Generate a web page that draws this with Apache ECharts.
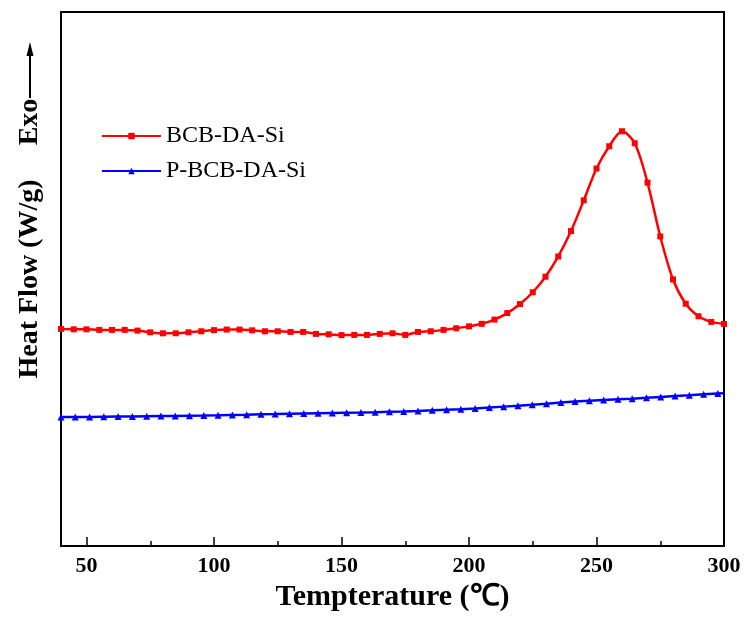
<!DOCTYPE html>
<html>
<head>
<meta charset="utf-8">
<title>DSC</title>
<script src="https://cdn.jsdelivr.net/npm/echarts@6/dist/echarts.min.js"></script>
<style>
  html, body { margin: 0; padding: 0; background: #fff; }
  #chart { width: 745px; height: 617px; }
</style>
</head>
<body>
<div id="chart"></div>
<script>
// temperatures of the markers (°C)
const redTemps = [40, 45, 50, 55, 60, 65, 70, 75, 80, 85, 90, 95, 100, 105, 110, 115, 120, 125, 130, 135,
  140, 145, 150, 155, 160, 165, 170, 175, 180, 185, 190, 195, 200, 205, 210, 215, 220, 225, 230, 235,
  240, 245, 250, 255, 260, 265, 270, 275, 280, 285, 290, 295, 300]
// heat flow, arbitrary offset units
const redFlow = [4.066, 4.058, 4.058, 4.047, 4.047, 4.047, 4.034, 4.002, 3.983, 3.983, 4.002, 4.021, 4.043, 4.053, 4.053, 4.039, 4.021, 4.021, 4.009, 4.009,
  3.972, 3.964, 3.949, 3.953, 3.953, 3.972, 3.983, 3.953, 4.009, 4.021, 4.047, 4.077, 4.113, 4.161, 4.240, 4.362, 4.531, 4.752, 5.043, 5.422,
  5.897, 6.473, 7.069, 7.486, 7.767, 7.542, 6.805, 5.797, 4.991, 4.537, 4.302, 4.197, 4.159]

const blueTemps = [40, 45.6, 51.2, 56.8, 62.4, 68, 73.6, 79.2, 84.8, 90.4, 96, 101.6, 107.2, 112.8, 118.4, 124,
  129.6, 135.2, 140.8, 146.4, 152, 157.6, 163.2, 168.8, 174.4, 180, 185.6, 191.2, 196.8, 202.4, 208, 213.6,
  219.2, 224.8, 230.4, 236, 241.6, 247.2, 252.8, 258.4, 264, 269.6, 275.2, 280.8, 286.4, 292, 297.6, 300]
const blueFlow = [2.415, 2.417, 2.418, 2.422, 2.425, 2.427, 2.430, 2.433, 2.436, 2.440, 2.443, 2.448, 2.455, 2.460, 2.466, 2.470,
  2.475, 2.480, 2.485, 2.490, 2.495, 2.500, 2.506, 2.514, 2.521, 2.529, 2.540, 2.552, 2.563, 2.577, 2.592, 2.610,
  2.625, 2.643, 2.662, 2.688, 2.706, 2.722, 2.736, 2.747, 2.758, 2.775, 2.792, 2.808, 2.823, 2.840, 2.855, 2.861]

const majorTicks = [50, 100, 150, 200, 250, 300]
const minorTicks = [75, 125, 175, 225, 275]

const seriesNames = ['BCB-DA-Si', 'P-BCB-DA-Si']

const serif = "'Liberation Serif', 'Times New Roman', serif"

const pairs = (xs, ys) => xs.map((x, i) => [x, ys[i]])

// last blue point is the line end, drawn without marker
const blueData = pairs(blueTemps, blueFlow).map((p, i) =>
  i === blueTemps.length - 1 ? { value: p, symbol: 'none' } : p)

const chart = echarts.init(document.getElementById('chart'))

chart.setOption({
  backgroundColor: '#fff',
  animation: false,
  grid: {
    left: 61,
    right: 21,
    top: 12,
    bottom: 71,
    show: true,
    borderColor: '#000',
    borderWidth: 2,
    backgroundColor: 'transparent'
  },
  legend: {
    orient: 'vertical',
    left: 101,
    top: 124,
    padding: 0,
    itemWidth: 59,
    itemHeight: 8,
    itemGap: 11,
    textStyle: {
      fontFamily: serif,
      fontSize: 24,
      color: '#000'
    },
    data: seriesNames
  },
  xAxis: [
    {
      type: 'value',
      min: 40,
      max: 300,
      name: 'Tempterature (\u2103)',
      nameLocation: 'middle',
      nameGap: 33,
      nameTextStyle: {
        fontFamily: serif,
        fontSize: 30,
        fontWeight: 'bold',
        color: '#000'
      },
      axisLine: { lineStyle: { color: '#000', width: 2 } },
      axisTick: {
        inside: true,
        length: 9,
        customValues: majorTicks,
        lineStyle: { color: '#000', width: 1.5 }
      },
      axisLabel: {
        customValues: majorTicks,
        margin: 9,
        fontFamily: serif,
        fontSize: 22,
        fontWeight: 'bold',
        color: '#000'
      },
      splitLine: { show: false }
    },
    {
      // minor ticks only
      type: 'value',
      min: 40,
      max: 300,
      position: 'bottom',
      axisLine: { show: false },
      axisTick: {
        inside: true,
        length: 5,
        customValues: minorTicks,
        lineStyle: { color: '#000', width: 1.5 }
      },
      axisLabel: { show: false },
      splitLine: { show: false }
    }
  ],
  yAxis: {
    type: 'value',
    min: 0,
    max: 10,
    name: 'Heat Flow (W/g)',
    nameLocation: 'middle',
    nameGap: 17,
    nameTextStyle: {
      fontFamily: serif,
      fontSize: 28,
      fontWeight: 'bold',
      color: '#000'
    },
    axisLine: { show: true, lineStyle: { color: '#000', width: 2 } },
    axisTick: { show: false },
    axisLabel: { show: false },
    splitLine: { show: false }
  },
  graphic: [
    {
      type: 'text',
      x: 30,
      y: 122,
      rotation: Math.PI / 2,
      style: {
        text: 'Exo',
        font: "bold 28px 'Liberation Serif', serif",
        fill: '#000',
        align: 'center',
        verticalAlign: 'middle'
      }
    },
    {
      type: 'line',
      shape: { x1: 30, y1: 98, x2: 30, y2: 52 },
      style: { stroke: '#000', lineWidth: 2 }
    },
    {
      type: 'polygon',
      shape: { points: [[30, 42], [26.5, 56], [33.5, 56]] },
      style: { fill: '#000' }
    }
  ],
  series: [
    {
      name: seriesNames[0],
      type: 'line',
      xAxisIndex: 0,
      data: pairs(redTemps, redFlow),
      smooth: 0.3,
      symbol: 'rect',
      symbolSize: 6,
      lineStyle: { color: '#ff0000', width: 2.5 },
      itemStyle: { color: '#ff0000' },
      z: 3
    },
    {
      name: seriesNames[1],
      type: 'line',
      xAxisIndex: 0,
      data: blueData,
      symbol: 'triangle',
      symbolSize: 7,
      lineStyle: { color: '#0000ff', width: 2.5 },
      itemStyle: { color: '#0000ff' },
      z: 2
    }
  ]
})
</script>
</body>
</html>
